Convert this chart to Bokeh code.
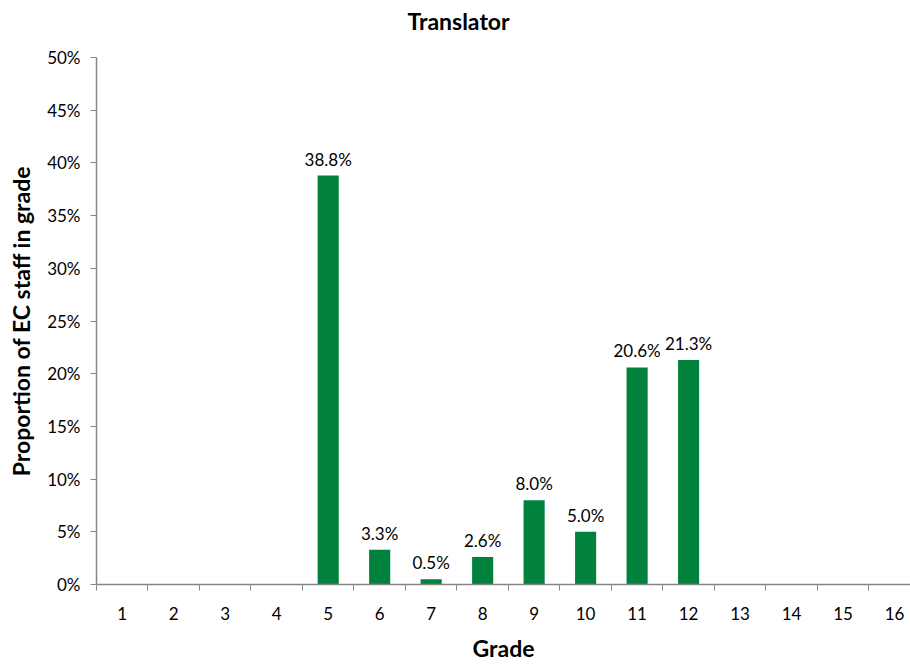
from bokeh.plotting import figure
from bokeh.models import ColumnDataSource, FixedTicker, PrintfTickFormatter, Range1d, Title
from bokeh.core.properties import value
from bokeh.embed import file_html
from bokeh.resources import INLINE

grades = list(range(1, 17))
shares = [0, 0, 0, 0, 38.8, 3.3, 0.5, 2.6, 8.0, 5.0, 20.6, 21.3, 0, 0, 0, 0]
y_ticks = [0, 5, 10, 15, 20, 25, 30, 35, 40, 45, 50]
title_text = "Translator"
x_title = "Grade"
y_title = "Proportion of EC staff in grade"

FONT = "Lato"
GREEN = "#00823C"
GREY = "#868686"

p = figure(width=910, height=664, output_backend="svg", toolbar_location=None,
           x_range=Range1d(0.5, 16.31), y_range=Range1d(0, 50),
           min_border_left=96, min_border_right=0, min_border_top=0, min_border_bottom=80)
p.outline_line_color = None
p.xgrid.grid_line_color = None
p.ygrid.grid_line_color = None

src = ColumnDataSource(dict(x=grades, y=shares))
p.vbar(x="x", top="y", width=0.41, source=src, fill_color=GREEN, line_color=None)

lab_x = [g for g, s in zip(grades, shares) if s > 0]
lab_y = [s for s in shares if s > 0]
lab_t = [f"{s:.1f}%" for s in shares if s > 0]
lsrc = ColumnDataSource(dict(x=lab_x, y=lab_y, t=lab_t))
p.text(x="x", y="y", text="t", source=lsrc, text_align="center", text_baseline="bottom",
       y_offset=-6, text_font=value(FONT), text_font_size="17px", text_color="#000000")

# x axis
xa = p.xaxis[0]
xa.ticker = FixedTicker(ticks=grades, minor_ticks=[g - 0.5 for g in grades] + [16.5])
xa.major_tick_out = 0
xa.major_tick_in = 0
xa.minor_tick_out = 6
xa.minor_tick_in = 0
xa.minor_tick_line_color = GREY
xa.axis_line_color = GREY
xa.axis_line_width = 1.5
xa.major_label_standoff = 16
xa.major_label_text_font = FONT
xa.major_label_text_font_size = "17px"
xa.major_label_text_color = "#000000"
xa.axis_label = x_title
xa.axis_label_text_font = FONT
xa.axis_label_text_font_size = "23px"
xa.axis_label_text_font_style = "bold"
xa.axis_label_text_color = "#000000"
xa.axis_label_standoff = 11

# y axis
ya = p.yaxis[0]
ya.ticker = FixedTicker(ticks=y_ticks, minor_ticks=[])
ya.formatter = PrintfTickFormatter(format="%d%%")
ya.major_tick_out = 6
ya.major_tick_in = 0
ya.major_tick_line_color = GREY
ya.minor_tick_line_color = None
ya.axis_line_color = GREY
ya.axis_line_width = 1.5
ya.major_label_standoff = 10
ya.major_label_text_font = FONT
ya.major_label_text_font_size = "17px"
ya.major_label_text_color = "#000000"
ya.axis_label = y_title
ya.axis_label_text_font = FONT
ya.axis_label_text_font_size = "23px"
ya.axis_label_text_font_style = "bold"
ya.axis_label_text_color = "#000000"
ya.axis_label_standoff = 9

# main title (outermost) plus an invisible spacer between it and the frame
p.title = Title(text=title_text, align="left", offset=311, standoff=8, text_font=FONT,
                text_font_size="23px", text_font_style="bold", text_color="#000000")
p.add_layout(Title(text=" ", text_font_size="10px", standoff=6), "above")

open("out.html", "w").write(file_html(p, INLINE))
